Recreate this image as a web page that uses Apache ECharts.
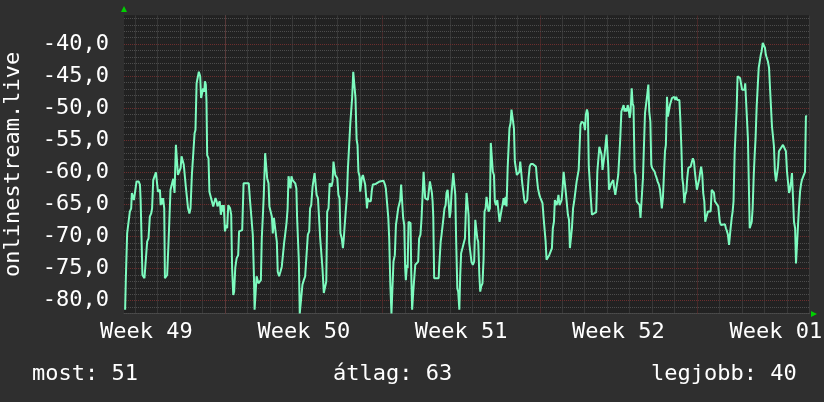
<!DOCTYPE html>
<html>
<head>
<meta charset="utf-8">
<script src="https://cdn.jsdelivr.net/npm/echarts@6/dist/echarts.min.js"></script>
<style>
  html, body { margin: 0; padding: 0; background: #2f2f2f; }
  #main { width: 824px; height: 402px; }
</style>
</head>
<body>
<div id="main"></div>
<script>
// x: days relative to the start of week 50
var sampleDays = [
  -4.45,-4.42,-4.36,-4.29,-4.24,-4.18,-4.15,-4.09,-4.06,-4.00,
  -3.94,-3.85,-3.79,-3.76,-3.73,-3.68,-3.59,-3.53,-3.47,-3.41,
  -3.35,-3.29,-3.25,-3.20,-3.14,-3.08,-3.02,-2.99,-2.93,-2.90,
  -2.87,-2.83,-2.79,-2.76,-2.71,-2.68,-2.62,-2.58,-2.52,-2.47,
  -2.43,-2.37,-2.31,-2.28,-2.25,-2.22,-2.19,-2.13,-2.10,-2.04,
  -1.98,-1.94,-1.88,-1.84,-1.79,-1.75,-1.69,-1.65,-1.59,-1.54,
  -1.48,-1.42,-1.36,-1.32,-1.27,-1.21,-1.17,-1.11,-1.07,-1.02,
  -0.98,-0.93,-0.90,-0.86,-0.83,-0.80,-0.74,-0.70,-0.64,-0.59,
  -0.53,-0.49,-0.43,-0.38,-0.34,-0.30,-0.24,-0.19,-0.13,-0.09,
  -0.06,-0.01,0.05,0.09,0.14,0.18,0.22,0.27,0.31,0.36,
  0.40,0.45,0.51,0.58,0.62,0.70,0.76,0.82,1.05,1.11,
  1.17,1.23,1.28,1.31,1.35,1.40,1.44,1.48,1.54,1.59,
  1.63,1.68,1.72,1.78,1.83,1.87,1.93,1.97,2.03,2.08,
  2.12,2.17,2.21,2.26,2.30,2.34,2.40,2.46,2.52,2.58,
  2.63,2.67,2.73,2.78,2.82,2.88,2.91,2.95,3.00,3.06,
  3.12,3.17,3.20,3.24,3.28,3.32,3.37,3.41,3.44,3.50,
  3.56,3.62,3.68,3.74,3.78,3.83,3.89,3.93,3.98,4.04,
  4.07,4.13,4.19,4.23,4.29,4.33,4.39,4.45,4.50,4.54,
  4.60,4.65,4.69,4.73,4.78,4.82,4.87,4.90,4.94,4.99,
  5.04,5.09,5.13,5.19,5.24,5.28,5.31,5.37,5.42,5.46,
  5.52,5.57,5.61,5.65,5.70,5.77,5.80,5.85,5.89,5.93,
  5.98,6.01,6.05,6.08,6.13,6.19,6.23,6.28,6.31,6.35,
  6.39,6.44,6.48,6.53,6.57,6.70,6.88,7.05,7.11,7.15,
  7.21,7.26,7.30,7.35,7.40,7.45,7.49,7.55,7.60,7.64,
  7.70,7.75,7.79,7.83,7.88,7.92,7.97,8.01,8.04,8.09,
  8.12,8.16,8.25,8.28,8.32,8.37,8.41,8.46,8.59,8.63,
  8.69,8.74,8.78,8.83,8.87,8.90,9.02,9.07,9.11,9.17,
  9.20,9.23,9.26,9.30,9.36,9.50,9.52,9.59,9.63,9.67,
  9.72,9.76,9.81,9.85,9.90,9.94,9.99,10.03,10.07,10.12,
  10.15,10.21,10.24,10.28,10.33,10.37,10.42,10.46,10.50,10.56,
  10.62,10.67,10.70,10.74,10.80,10.83,10.86,10.92,10.96,11.02,
  11.08,11.13,11.19,11.22,11.26,11.31,11.35,11.39,11.45,11.50,
  11.54,11.59,11.63,11.68,11.72,11.78,11.82,11.87,11.91,11.96,
  12.00,12.05,12.11,12.17,12.21,12.25,12.30,12.34,12.39,12.43,
  12.48,12.52,12.57,12.61,12.65,12.70,12.74,12.80,12.85,12.89,
  12.94,12.98,13.03,13.09,13.13,13.18,13.22,13.26,13.31,13.35,
  13.44,13.50,13.55,13.60,13.69,13.77,13.83,13.87,13.92,13.98,
  14.03,14.08,14.12,14.17,14.21,14.26,14.30,14.36,14.42,14.48,
  14.54,14.58,14.63,14.67,14.72,14.75,14.79,14.83,14.88,14.93,
  14.97,15.01,15.06,15.12,15.16,15.21,15.25,15.30,15.34,15.39,
  15.43,15.48,15.53,15.58,15.64,15.68,15.73,15.77,15.81,15.87,
  15.92,15.96,16.01,16.05,16.10,16.14,16.18,16.23,16.27,16.32,
  16.51,16.56,16.60,16.65,16.71,16.75,16.79,16.84,16.88,16.93,
  16.97,17.02,17.05,17.08,17.13,17.18,17.27,17.31,17.36,17.40,
  17.45,17.49,17.54,17.58,17.63,17.68,17.73,17.77,17.82,17.86,
  17.91,17.95,18.00,18.04,18.09,18.13,18.17,18.22,18.26,18.31,
  18.44,18.48,18.54,18.59,18.63,18.68,18.74,18.78,18.83,18.87,
  18.92,18.96,19.00,19.05,19.11,19.15,19.20,19.24,19.30,19.35,
  19.39,19.43,19.48,19.52,19.57,19.61,19.66,19.70,19.75,19.79,
  19.84,19.88,19.94,19.98,20.03,20.07,20.12,20.16,20.21,20.25,
  20.30,20.34,20.38,20.43,20.47,20.52,20.56,20.61,20.71,20.75,
  20.81,20.86,20.90,20.95,20.99,21.05,21.10,21.14,21.18,21.23,
  21.27,21.32,21.36,21.42,21.48,21.60,21.65,21.70,21.75,21.79,
  21.84,21.94,21.98,22.01,22.06,22.24,22.28,22.33,22.37,22.42,
  22.46,22.49,22.54,22.58,22.62,22.67,22.71,22.76,22.80,22.86,
  22.91,22.95,23.00,23.11,23.14,23.19,23.22,23.26,23.31,23.34,
  23.38,23.43,23.47,23.52,23.56,23.60,23.65,23.69,23.74,23.78,
  23.83,23.87,23.92,23.98,24.02,24.06,24.11,24.15,24.20,24.24,
  24.29,24.33,24.38,24.42,24.46,24.51,24.55,24.60,24.64,24.73,
  24.78,24.82,24.86,24.95,25.00,25.04,25.09,25.13,25.18,25.22,
  25.27,25.31,25.36,25.40,25.44,25.49,25.53,25.58,25.62,25.66,
  25.71,25.80,25.84,25.87
];
var signalLevels = [
  -81.4,-76.8,-69.5,-69.2,-66.1,-65.6,-63.2,-63.5,-64.3,-64.0,
  -61.4,-61.4,-61.9,-64.3,-64.5,-76.0,-76.5,-76.4,-70.8,-70.3,
  -66.9,-66.4,-65.6,-61.2,-60.9,-60.0,-60.1,-63.0,-63.2,-62.7,
  -65.1,-64.0,-65.0,-64.0,-65.6,-76.5,-76.8,-76.0,-71.0,-70.8,
  -62.7,-62.5,-61.0,-61.2,-63.2,-59.3,-55.7,-56.0,-60.4,-60.1,
  -59.3,-57.5,-57.8,-58.8,-59.1,-62.2,-62.5,-65.6,-66.4,-65.6,
  -60.4,-60.1,-53.9,-53.4,-46.1,-45.8,-44.3,-45.0,-48.4,-47.6,
  -46.9,-47.4,-45.8,-46.3,-48.9,-57.3,-57.8,-63.0,-63.2,-64.5,
  -65.3,-65.6,-64.0,-64.5,-65.3,-65.1,-64.5,-66.6,-65.1,-66.1,
  -65.1,-69.2,-68.2,-68.7,-65.1,-64.8,-65.6,-66.6,-74.9,-79.1,
  -78.6,-74.9,-73.4,-72.9,-69.2,-69.0,-69.0,-61.7,-61.7,-64.5,
  -67.1,-69.7,-76.0,-81.4,-81.2,-76.2,-76.5,-77.3,-77.0,-76.8,
  -70.3,-66.6,-63.5,-57.0,-57.0,-60.9,-61.7,-65.3,-65.6,-66.9,
  -69.5,-67.1,-66.9,-69.7,-70.8,-75.5,-76.2,-75.5,-74.7,-74.4,
  -70.8,-69.7,-67.9,-65.6,-60.6,-60.9,-62.5,-60.6,-61.2,-61.4,
  -61.7,-62.5,-66.9,-67.1,-73.9,-82.0,-80.1,-80.1,-77.5,-76.8,
  -76.2,-76.0,-69.7,-69.2,-65.6,-65.1,-62.2,-61.9,-60.1,-60.1,
  -63.5,-64.0,-64.3,-70.3,-70.5,-74.9,-78.8,-78.6,-77.0,-66.1,
  -65.6,-61.7,-61.7,-62.2,-61.4,-58.3,-58.3,-60.4,-60.6,-60.9,
  -63.5,-64.0,-69.5,-70.3,-71.8,-70.3,-68.7,-68.4,-63.5,-59.6,
  -59.3,-52.3,-52.1,-48.4,-44.3,-44.3,-48.4,-54.9,-55.7,-59.9,
  -60.6,-63.0,-62.7,-60.9,-60.4,-60.4,-61.9,-64.0,-65.6,-64.0,
  -64.5,-64.3,-64.5,-62.7,-61.9,-61.8,-61.4,-61.3,-61.9,-62.5,
  -62.7,-67.1,-70.3,-77.5,-82.0,-81.7,-73.9,-72.9,-68.2,-67.9,
  -65.6,-65.6,-64.3,-61.9,-62.2,-67.1,-68.2,-74.9,-76.8,-74.4,
  -74.9,-67.7,-67.9,-75.5,-81.4,-78.6,-78.6,-74.4,-73.9,-70.3,
  -69.7,-67.1,-66.9,-59.9,-59.9,-64.0,-64.3,-62.7,-61.4,-61.7,
  -63.2,-64.5,-66.9,-76.5,-76.8,-76.5,-74.9,-70.8,-69.7,-69.5,
  -66.9,-65.6,-65.1,-63.2,-62.7,-64.5,-67.1,-66.1,-63.5,-63.2,
  -60.1,-60.1,-63.5,-70.8,-78.1,-78.6,-81.4,-76.0,-72.6,-71.8,
  -71.6,-70.3,-67.1,-63.2,-63.2,-66.6,-71.0,-71.3,-73.9,-74.4,
  -73.9,-67.4,-67.7,-70.3,-70.8,-76.0,-78.6,-77.8,-77.3,-73.4,
  -66.1,-65.6,-63.8,-63.8,-66.1,-65.6,-55.4,-55.7,-59.9,-60.4,
  -64.5,-65.1,-64.3,-64.0,-67.7,-67.9,-65.8,-65.1,-64.0,-65.1,
  -63.8,-65.3,-59.3,-59.1,-53.1,-52.3,-50.2,-50.5,-53.1,-58.3,
  -58.6,-60.4,-60.1,-59.9,-58.3,-58.6,-61.7,-61.9,-64.3,-64.8,
  -64.3,-60.9,-59.1,-58.7,-58.7,-58.8,-59.1,-60.9,-62.5,-63.5,
  -64.0,-64.3,-64.8,-67.1,-67.1,-70.8,-73.6,-73.4,-72.9,-72.6,
  -71.8,-68.7,-67.7,-64.3,-64.0,-65.1,-64.5,-63.5,-65.1,-65.3,
  -64.3,-62.7,-59.9,-59.9,-63.2,-63.5,-66.6,-67.4,-71.8,-72.1,
  -68.7,-65.6,-64.5,-64.3,-61.4,-61.2,-59.6,-59.3,-52.6,-52.1,
  -51.8,-52.3,-53.4,-51.0,-50.2,-50.8,-59.1,-59.3,-64.0,-66.6,
  -66.2,-59.9,-59.6,-56.0,-55.7,-57.3,-59.6,-59.9,-57.3,-57.5,
  -54.1,-54.1,-59.3,-62.7,-62.5,-61.7,-61.2,-62.5,-63.5,-63.2,
  -61.4,-60.4,-57.3,-54.7,-50.5,-50.0,-49.5,-50.5,-50.0,-50.5,
  -49.5,-50.0,-51.5,-50.5,-46.9,-49.2,-49.7,-59.9,-60.4,-64.5,
  -65.1,-67.1,-67.1,-60.9,-60.6,-50.8,-50.5,-47.9,-46.3,-50.5,
  -52.1,-58.8,-59.3,-59.3,-59.9,-60.4,-60.9,-61.4,-61.9,-62.7,
  -63.0,-65.6,-63.8,-63.5,-56.7,-55.7,-48.2,-51.3,-51.0,-49.5,
  -49.5,-48.4,-48.7,-48.2,-48.7,-48.2,-48.7,-48.4,-48.7,-51.5,
  -56.2,-60.9,-61.9,-64.8,-63.5,-63.0,-60.9,-59.3,-59.1,-58.8,
  -57.8,-58.3,-59.9,-59.9,-62.7,-62.7,-60.9,-59.9,-59.1,-60.4,
  -63.2,-64.5,-67.7,-67.9,-66.1,-66.1,-62.7,-62.7,-63.2,-64.5,
  -64.8,-65.3,-65.6,-67.7,-68.2,-68.1,-68.7,-69.2,-69.7,-71.3,
  -71.3,-68.7,-67.1,-66.1,-64.5,-57.0,-56.7,-50.0,-45.0,-45.0,
  -45.3,-45.6,-47.1,-47.1,-46.1,-45.9,-46.3,-54.7,-54.9,-68.7,
  -68.7,-67.7,-65.6,-60.4,-57.3,-54.7,-49.7,-49.5,-43.7,-43.5,
  -41.7,-41.1,-39.8,-39.8,-40.6,-41.7,-41.9,-42.7,-43.7,-46.6,
  -46.9,-52.8,-53.1,-56.0,-59.9,-61.4,-61.2,-59.1,-56.7,-56.2,
  -56.2,-55.7,-56.0,-56.7,-59.9,-60.1,-63.2,-62.7,-61.4,-60.1,
  -60.4,-67.7,-68.7,-74.2,-74.2,-68.2,-65.6,-63.0,-61.9,-61.2,
  -60.9,-59.9,-51.3,-51.1
];
var weekLabels = ['Week 49', 'Week 50', 'Week 51', 'Week 52', 'Week 01'];
var footerLabels = ['most: 51', 'átlag: 63', 'legjobb: 40'];
var axisTitle = 'onlinestream.live';

var FONT = 'DejaVu Sans Mono';
var MINOR = '#4c4c4c';
var MAJOR = '#6c2e2e';

// grid lines: one per day / per unit, red each week / each 5 units
var gridLines = [];
for (var d = -4; d <= 26; d++) {
  gridLines.push({ xAxis: d, lineStyle: { color: d % 7 === 0 ? MAJOR : MINOR } });
}
for (var v = -82; v <= -36; v++) {
  gridLines.push({ yAxis: v, lineStyle: { color: v % 5 === 0 ? MAJOR : MINOR } });
}

var points = sampleDays.map(function (x, k) { return [x, signalLevels[k]]; });

var myChart = echarts.init(document.getElementById('main'));
var option = {
  backgroundColor: '#2f2f2f',
  animation: false,
  grid: {
    left: 124, right: 14.5, top: 15.3, bottom: 88.5,
    outerBoundsMode: 'none', containLabel: false,
    show: true, backgroundColor: '#222222', borderWidth: 0
  },
  xAxis: {
    type: 'value', min: -4.5, max: 26, interval: 0.5,
    axisLine: { show: true, onZero: false, lineStyle: { color: '#444444' } },
    axisTick: { show: false },
    axisLabel: {
      margin: 8, color: '#ffffff', fontFamily: FONT, fontSize: 22,
      formatter: function (x) {
        var k = (x + 3.5) / 7;
        return Number.isInteger(k) ? weekLabels[k] : '';
      }
    },
    splitLine: { show: false }
  },
  yAxis: {
    type: 'value', min: -82, max: -35.5, interval: 0.5,
    name: axisTitle, nameLocation: 'middle', nameRotate: 90, nameGap: 100,
    nameTextStyle: { color: '#ffffff', fontFamily: FONT, fontSize: 22 },
    axisLine: { show: true, lineStyle: { color: '#444444' } },
    axisTick: { show: false },
    axisLabel: {
      margin: 15, color: '#ffffff', fontFamily: FONT, fontSize: 22,
      formatter: function (y) {
        return y % 5 === 0 ? y.toFixed(1).replace('.', ',') : '';
      }
    },
    splitLine: { show: false }
  },
  graphic: [
    { type: 'polygon', shape: { points: [[121, 12], [127, 12], [124, 6]] }, style: { fill: '#00d000' } },
    { type: 'polygon', shape: { points: [[811, 311], [811, 317], [817, 314]] }, style: { fill: '#00d000' } },
    { type: 'text', left: 32, top: 363, style: { text: footerLabels[0], fill: '#ffffff', font: '22px ' + FONT } },
    { type: 'text', left: 333, top: 363, style: { text: footerLabels[1], fill: '#ffffff', font: '22px ' + FONT } },
    { type: 'text', left: 651, top: 363, style: { text: footerLabels[2], fill: '#ffffff', font: '22px ' + FONT } }
  ],
  series: [
    {
      type: 'line', data: [], z: 1, silent: true,
      markLine: {
        silent: true, symbol: 'none', animation: false, z: 1,
        label: { show: false },
        emphasis: { disabled: true },
        lineStyle: { width: 1, type: [1, 1] },
        data: gridLines
      }
    },
    {
      type: 'line', data: points, z: 3,
      showSymbol: false, clip: true,
      lineStyle: { color: '#7dfbbf', width: 2 }
    }
  ]
};
myChart.setOption(option);
</script>
</body>
</html>
